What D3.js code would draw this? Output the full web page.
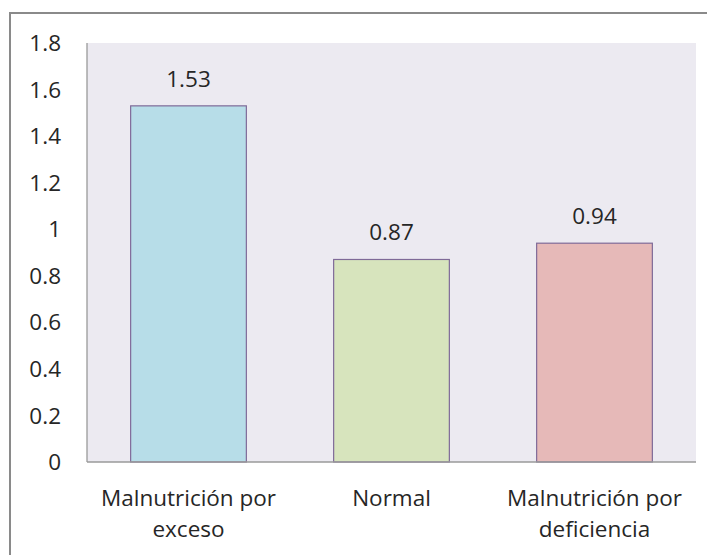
<!DOCTYPE html>
<html><head><meta charset="utf-8">
<script src="https://cdn.jsdelivr.net/npm/d3@7"></script>
<style>body{margin:0;background:#fff}svg{display:block}</style>
</head><body>
<script>
const categories = [["Malnutrición por", "exceso"], ["Normal"], ["Malnutrición por", "deficiencia"]];
const values = [1.53, 0.87, 0.94];
const labels = ["1.53", "0.87", "0.94"];
const yTicks = [0, 0.2, 0.4, 0.6, 0.8, 1, 1.2, 1.4, 1.6, 1.8];
const colors = ["#B7DDE8", "#D7E4BD", "#E6B9B8"];

(function(){
const W = 707, H = 555;
const svg = d3.select("body").append("svg").attr("width", W).attr("height", H);
const font = "'Open Sans', sans-serif";
const fs = 22.5;

svg.append("path").attr("d", "M10,560 L10,13 L720,13").attr("fill", "none")
  .attr("stroke", "#8a8a8a").attr("stroke-width", 2);

const pl = 87, pr = 696, pt = 43, pb = 462;
svg.append("rect").attr("x", pl).attr("y", pt).attr("width", pr - pl).attr("height", pb - pt)
  .attr("fill", "#ECEAF1");

const x = d3.scaleBand().domain(d3.range(values.length)).range([pl, pr]).paddingInner(0.43).paddingOuter(0.215);
const y = d3.scaleLinear().domain([0, 1.8]).range([pb, pt]);

svg.selectAll("rect.bar").data(values).join("rect").attr("class", "bar")
  .attr("x", (d, i) => x(i)).attr("y", d => y(d))
  .attr("width", x.bandwidth()).attr("height", d => y(0) - y(d))
  .attr("fill", (d, i) => colors[i]).attr("stroke", "#7F6A98").attr("stroke-width", 1.2);

svg.append("line").attr("x1", pl).attr("x2", pl).attr("y1", pt).attr("y2", pb).attr("stroke", "#9a9a9a").attr("stroke-width", 1.3);
svg.append("line").attr("x1", pl).attr("x2", pr).attr("y1", pb).attr("y2", pb).attr("stroke", "#9a9a9a").attr("stroke-width", 1.3);

svg.selectAll("text.yt").data(yTicks).join("text").attr("class", "yt")
  .attr("x", 61).attr("y", d => y(d)).attr("dy", "0.36em").attr("text-anchor", "end")
  .attr("font-family", font).attr("font-size", fs).attr("fill", "#262626")
  .text(d => String(+d.toFixed(1)));

svg.selectAll("text.dl").data(values).join("text").attr("class", "dl")
  .attr("x", (d, i) => x(i) + x.bandwidth() / 2).attr("y", d => y(d) - 19)
  .attr("text-anchor", "middle").attr("font-family", font).attr("font-size", fs).attr("fill", "#262626")
  .text((d, i) => labels[i]);

categories.forEach((lines, i) => {
  const cx = x(i) + x.bandwidth() / 2;
  const t = svg.append("text").attr("x", cx).attr("y", 506)
    .attr("text-anchor", "middle").attr("font-family", font).attr("font-size", fs).attr("fill", "#262626");
  lines.forEach((l, j) => t.append("tspan").attr("x", cx).attr("dy", j === 0 ? 0 : 31).text(l));
});
})();
</script>
</body></html>
